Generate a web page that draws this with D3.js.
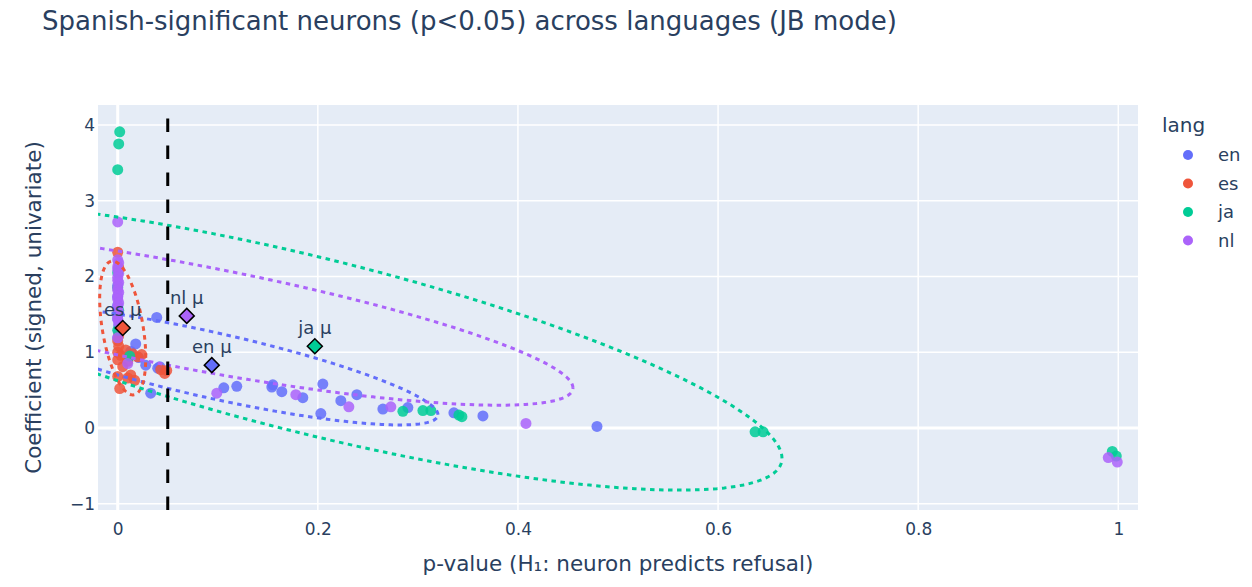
<!DOCTYPE html>
<html>
<head>
<meta charset="utf-8">
<script src="https://cdn.jsdelivr.net/npm/d3@7/dist/d3.min.js"></script>
<style>
  body { margin: 0; background: #fff; }
  svg text { font-family: "DejaVu Sans", verdana, arial, sans-serif; fill: #2a3f5f; }
</style>
</head>
<body>
<div id="chart"></div>
<script>
// ---- data ----
var langs = ["en", "es", "ja", "nl"];

var enP = [0.039, 0.028, 0.040, 0.042, 0.018, 0.013, 0.021, 0.033, 0.106, 0.119, 0.155, 0.154, 0.164, 0.185,
           0.205, 0.203, 0.223, 0.239, 0.265, 0.290, 0.336, 0.365, 0.479, 0.000, 0.000, 0.001, 0.000, 0.000, 0.001, 0.000];
var enC = [1.46, 0.83, 0.79, 0.81, 1.11, 1.01, 0.93, 0.46, 0.53, 0.55, 0.57, 0.54, 0.48, 0.40,
           0.58, 0.19, 0.36, 0.44, 0.25, 0.27, 0.20, 0.16, 0.02, 1.62, 1.44, 1.27, 1.88, 1.19, 1.35, 1.73];

var esP = [0.000, 0.001, 0.000, 0.001, 0.000, 0.008, 0.003, 0.020, 0.015, 0.000, 0.005, 0.010, 0.043, 0.047,
           0.049, 0.013, 0.017, 0.010, 0.002, 0.000, 0.001, 0.024];
var esC = [2.32, 2.12, 1.15, 1.08, 1.00, 1.03, 0.96, 0.94, 0.98, 0.90, 0.81, 0.88, 0.77, 0.72,
           0.76, 0.70, 0.63, 0.66, 0.52, 0.68, 1.22, 0.97];

var jaP = [0.002, 0.001, 0.000, 0.000, 0.012, 0.285, 0.305, 0.313, 0.341, 0.344, 0.637, 0.645, 0.994, 0.998,
           0.000, 0.001, 0.000];
var jaC = [3.91, 3.75, 3.41, 1.29, 0.95, 0.22, 0.23, 0.23, 0.17, 0.15, -0.05, -0.05, -0.31, -0.37,
           1.85, 1.55, 2.05];

var nlP = [0.000, 0.000, 0.001, 0.000, 0.000, 0.001, 0.000, 0.000, 0.001, 0.000, 0.000, 0.001, 0.000, 0.000,
           0.001, 0.000, 0.000, 0.001, 0.000, 0.000, 0.001, 0.000, 0.010, 0.099, 0.178, 0.231, 0.273, 0.408, 0.990, 0.999];
var nlC = [2.72, 2.22, 2.18, 2.13, 2.09, 2.04, 1.99, 1.95, 1.92, 1.86, 1.82, 1.79, 1.74, 1.70,
           1.65, 1.61, 1.57, 1.52, 1.48, 1.44, 1.39, 1.19, 0.85, 0.46, 0.44, 0.28, 0.28, 0.06, -0.39, -0.45];

// language means (diamonds)
var muP = [0.094, 0.005, 0.197, 0.069];
var muC = [0.83, 1.32, 1.08, 1.48];

// 2-sigma covariance of each language (ellipses)
var ellXX = [0.0511, 0.00053, 0.218, 0.149];
var ellXY = [-0.148, -0.009, -0.691, -0.367];
var ellYY = [0.624, 0.78, 3.61, 1.39];

var xTicks = [0, 0.2, 0.4, 0.6, 0.8, 1];
var yTicks = [-1, 0, 1, 2, 3, 4];
var cutoff = 0.05;

// ---- layout ----
var fullWidth = 1252, fullHeight = 587;
var margin = {top: 105, right: 114, bottom: 77, left: 98};
var width = fullWidth - margin.left - margin.right;
var height = fullHeight - margin.top - margin.bottom;
var colors = {en: "#636efa", es: "#EF553B", ja: "#00cc96", nl: "#ab63fa"};

var series = {en: [enP, enC], es: [esP, esC], ja: [jaP, jaC], nl: [nlP, nlC]};

var svg = d3.select("#chart").append("svg")
  .attr("width", fullWidth).attr("height", fullHeight);

var xScale = d3.scaleLinear().domain([-0.0197, 1.0197]).range([margin.left, margin.left + width]);
var yScale = d3.scaleLinear().domain([-1.0825, 4.264]).range([margin.top + height, margin.top]);

svg.append("defs").append("clipPath").attr("id", "plotclip")
  .append("rect").attr("x", margin.left).attr("y", margin.top).attr("width", width).attr("height", height);

svg.append("rect").attr("x", margin.left).attr("y", margin.top)
  .attr("width", width).attr("height", height).attr("fill", "#E5ECF6");

// grid
var grid = svg.append("g");
xTicks.forEach(function(t) {
  grid.append("line").attr("x1", xScale(t)).attr("x2", xScale(t))
    .attr("y1", margin.top).attr("y2", margin.top + height)
    .attr("stroke", "#fff").attr("stroke-width", t === 0 ? 3 : 1.5);
});
yTicks.forEach(function(t) {
  grid.append("line").attr("y1", yScale(t)).attr("y2", yScale(t))
    .attr("x1", margin.left).attr("x2", margin.left + width)
    .attr("stroke", "#fff").attr("stroke-width", t === 0 ? 3 : 1.5);
});

// axes
var xAxis = d3.axisBottom(xScale).tickValues(xTicks).tickSize(0).tickPadding(13)
  .tickFormat(function(d) { return d3.format("~g")(d); });
var yAxis = d3.axisLeft(yScale).tickValues(yTicks).tickSize(0).tickPadding(3)
  .tickFormat(function(d) { return d < 0 ? "\u2212" + Math.abs(d) : d; });

var gx = svg.append("g").attr("transform", "translate(0," + (margin.top + height) + ")").call(xAxis);
var gy = svg.append("g").attr("transform", "translate(" + margin.left + ",0)").call(yAxis);
[gx, gy].forEach(function(g) {
  g.select(".domain").remove();
  g.selectAll("text").attr("font-size", 17).style("fill", "#2a3f5f")
    .style("font-family", "'DejaVu Sans', verdana, sans-serif");
});

var plot = svg.append("g").attr("clip-path", "url(#plotclip)");

// points
langs.forEach(function(l) {
  var pts = series[l][0].map(function(p, i) { return [p, series[l][1][i]]; });
  plot.append("g").selectAll("circle").data(pts).enter().append("circle")
    .attr("cx", function(d) { return xScale(d[0]); })
    .attr("cy", function(d) { return yScale(d[1]); })
    .attr("r", 5.5)
    .attr("fill", colors[l])
    .attr("opacity", 0.85);
});

// ellipses
var line = d3.line().x(function(d) { return xScale(d[0]); }).y(function(d) { return yScale(d[1]); });
langs.forEach(function(l, i) {
  var a = Math.sqrt(ellXX[i]);
  var b = ellXY[i] / a;
  var c = Math.sqrt(ellYY[i] - b * b);
  var pts = d3.range(0, 201).map(function(k) {
    var t = 2 * Math.PI * k / 200;
    return [muP[i] + a * Math.cos(t), muC[i] + b * Math.cos(t) + c * Math.sin(t)];
  });
  plot.append("path").attr("d", line(pts)).attr("fill", "none")
    .attr("stroke", colors[l]).attr("stroke-width", 3).attr("stroke-dasharray", "4.5,4.5");
});

// means
langs.forEach(function(l, i) {
  var cx = xScale(muP[i]), cy = yScale(muC[i]), r = 7.5;
  plot.append("path")
    .attr("d", "M" + cx + "," + (cy - r) + "L" + (cx + r) + "," + cy + "L" + cx + "," + (cy + r) + "L" + (cx - r) + "," + cy + "Z")
    .attr("fill", colors[l]).attr("stroke", "#000").attr("stroke-width", 1.5);
  svg.append("text").attr("x", cx).attr("y", cy - 12)
    .attr("text-anchor", "middle").attr("font-size", 18).text(l + " \u03bc");
});

// p = 0.05 cut
svg.append("line")
  .attr("x1", xScale(cutoff)).attr("x2", xScale(cutoff))
  .attr("y1", margin.top + height).attr("y2", margin.top)
  .attr("stroke", "#000").attr("stroke-width", 3).attr("stroke-dasharray", "13.5,13.5");

// titles
svg.append("text").attr("x", 42).attr("y", 30).attr("font-size", 26)
  .text("Spanish-significant neurons (p<0.05) across languages (JB mode)");
svg.append("text").attr("x", margin.left + width / 2).attr("y", 571).attr("text-anchor", "middle")
  .attr("font-size", 21.5).text("p-value (H\u2081: neuron predicts refusal)");
svg.append("text").attr("transform", "translate(41," + (margin.top + height / 2) + ") rotate(-90)")
  .attr("text-anchor", "middle").attr("font-size", 21.5).text("Coefficient (signed, univariate)");

// legend
var legend = svg.append("g").attr("transform", "translate(1162,0)");
legend.append("text").attr("x", 0).attr("y", 132).attr("font-size", 20).text("lang");
langs.forEach(function(l, i) {
  var ly = 155 + i * 28.5;
  legend.append("circle").attr("cx", 26).attr("cy", ly).attr("r", 5).attr("fill", colors[l]);
  legend.append("text").attr("x", 56).attr("y", ly + 6).attr("font-size", 18).text(l);
});
</script>
</body>
</html>
